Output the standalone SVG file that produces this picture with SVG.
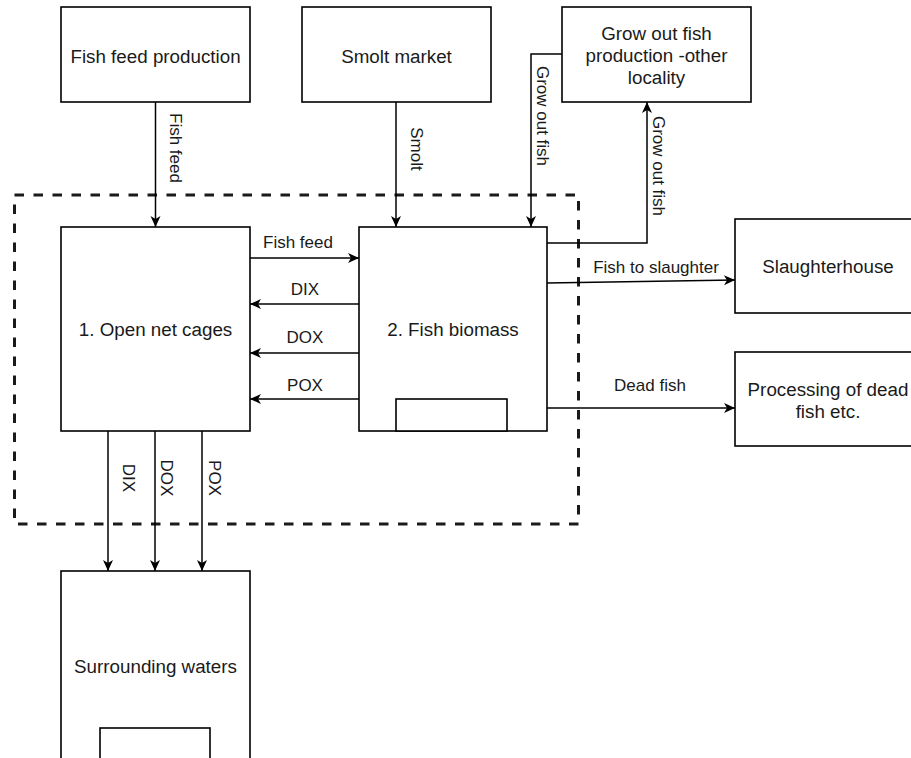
<svg xmlns="http://www.w3.org/2000/svg" width="911" height="758" viewBox="0 0 911 758">
<defs>
<style>
.box{fill:#ffffff;stroke:#000000;stroke-width:1.6}
.con{fill:none;stroke:#000000;stroke-width:1.5}
.dash{fill:none;stroke:#1a1a1a;stroke-width:3;stroke-dasharray:9.5 9.5}
.nt{font-family:"Liberation Sans",Arial,Helvetica,sans-serif;font-size:18.8px;fill:#1a1a1a;text-anchor:middle}
.et{font-family:"Liberation Sans",Arial,Helvetica,sans-serif;font-size:17px;fill:#1a1a1a;text-anchor:middle}
</style>
<marker id="arr" viewBox="-12 -6 13 12" markerWidth="13" markerHeight="12" refX="0" refY="0" orient="auto" markerUnits="userSpaceOnUse">
<path d="M0,0 L-11,-5 L-8,0 L-11,5 Z" fill="#000000"/>
</marker>
</defs>
<rect width="911" height="758" fill="#ffffff"/>

<g id="system-boundary">
<rect class="dash" x="14.5" y="195" width="564" height="329"/>
</g>

<g id="fish-feed-production">
<rect class="box" x="61" y="7" width="189" height="95"/>
<text class="nt" x="155.5" y="62.5">Fish feed production</text>
</g>
<g id="smolt-market">
<rect class="box" x="302" y="7" width="189" height="95"/>
<text class="nt" x="396.5" y="62.5">Smolt market</text>
</g>
<g id="grow-out-other">
<rect class="box" x="562" y="7" width="189" height="95"/>
<text class="nt" x="656.5" y="40">Grow out fish</text>
<text class="nt" x="656.5" y="62">production -other</text>
<text class="nt" x="656.5" y="84">locality</text>
</g>
<g id="open-net-cages">
<rect class="box" x="61" y="227" width="189" height="204"/>
<text class="nt" x="155.5" y="336">1. Open net cages</text>
</g>
<g id="fish-biomass">
<rect class="box" x="359" y="227" width="188" height="204"/>
<rect class="box" x="396" y="399" width="111" height="32"/>
<text class="nt" x="453" y="336">2. Fish biomass</text>
</g>
<g id="slaughterhouse">
<rect class="box" x="735" y="219" width="200" height="94"/>
<text class="nt" x="828" y="273">Slaughterhouse</text>
</g>
<g id="processing-dead-fish">
<rect class="box" x="735" y="352" width="200" height="94"/>
<text class="nt" x="828" y="396">Processing of dead</text>
<text class="nt" x="828" y="418">fish etc.</text>
</g>
<g id="surrounding-waters">
<rect class="box" x="61" y="571" width="189" height="200"/>
<rect class="box" x="100" y="728" width="110" height="50"/>
<text class="nt" x="155.5" y="673">Surrounding waters</text>
</g>

<g id="connectors">
<path class="con" d="M155.5,102 V227" marker-end="url(#arr)"/>
<path class="con" d="M396,102 V227" marker-end="url(#arr)"/>
<path class="con" d="M562,54 H531 V227" marker-end="url(#arr)"/>
<path class="con" d="M547,243 H647 V102" marker-end="url(#arr)"/>
<path class="con" d="M547,283 L735,280" marker-end="url(#arr)"/>
<path class="con" d="M547,408 H735" marker-end="url(#arr)"/>
<path class="con" d="M250,258 H359" marker-end="url(#arr)"/>
<path class="con" d="M359,304 H250" marker-end="url(#arr)"/>
<path class="con" d="M359,353 H250" marker-end="url(#arr)"/>
<path class="con" d="M359,399 H250" marker-end="url(#arr)"/>
<path class="con" d="M108,431 V571" marker-end="url(#arr)"/>
<path class="con" d="M155,431 V571" marker-end="url(#arr)"/>
<path class="con" d="M202,431 V571" marker-end="url(#arr)"/>

<text class="et" transform="translate(170,148) rotate(90)">Fish feed</text>
<text class="et" transform="translate(411,149) rotate(90)">Smolt</text>
<text class="et" transform="translate(537,116) rotate(90)">Grow out fish</text>
<text class="et" transform="translate(653,166) rotate(90)">Grow out fish</text>
<text class="et" x="656" y="273">Fish to slaughter</text>
<text class="et" x="650" y="391">Dead fish</text>
<text class="et" x="298" y="248">Fish feed</text>
<text class="et" x="305" y="295">DIX</text>
<text class="et" x="305" y="343">DOX</text>
<text class="et" x="305" y="391">POX</text>
<text class="et" transform="translate(122.5,478) rotate(90)">DIX</text>
<text class="et" transform="translate(161,478) rotate(90)">DOX</text>
<text class="et" transform="translate(208.5,478) rotate(90)">POX</text>
</g>
</svg>
